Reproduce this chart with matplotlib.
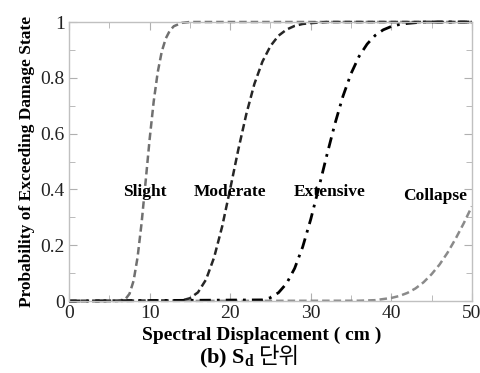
import matplotlib.pyplot as plt

plt.rcParams['font.family'] = ['Liberation Serif', 'DejaVu Serif']
plt.rcParams['mathtext.fontset'] = 'custom'
plt.rcParams['mathtext.rm'] = 'Liberation Serif'
plt.rcParams['mathtext.bf'] = 'Liberation Serif:bold'

# fragility curves
slight_x = [0, 6, 7, 7.5, 8, 8.5, 9, 9.5, 10, 10.5, 11, 11.5, 12, 12.5, 13, 14, 15, 50]
slight_y = [0, 0, 0.007, 0.026, 0.072, 0.157, 0.280, 0.429, 0.581, 0.715, 0.820, 0.894,
            0.941, 0.969, 0.985, 0.997, 1, 1]

moderate_x = [0, 14, 15, 16, 17, 18, 19, 20, 21, 22, 23, 24, 25, 26, 27, 28, 29, 30, 32, 50]
moderate_y = [0, 0.002, 0.010, 0.031, 0.077, 0.156, 0.267, 0.402, 0.542, 0.670, 0.778, 0.858,
              0.914, 0.951, 0.973, 0.986, 0.993, 0.996, 1, 1]

extensive_x = [0, 24, 25, 26, 27, 28, 29, 30, 31, 32, 33, 34, 35, 36, 37, 38, 39, 40, 41, 42, 44, 50]
extensive_y = [0, 0.004, 0.012, 0.030, 0.063, 0.117, 0.194, 0.293, 0.406, 0.523, 0.635, 0.734,
               0.815, 0.877, 0.921, 0.952, 0.972, 0.984, 0.991, 0.995, 1, 1]

collapse_x = [0, 36, 38, 40, 41, 42, 43, 44, 45, 46, 47, 48, 49, 50]
collapse_y = [0, 0.001, 0.003, 0.011, 0.018, 0.029, 0.045, 0.067, 0.096, 0.131, 0.174, 0.224,
              0.279, 0.339]

labels = ["Slight", "Moderate", "Extensive", "Collapse"]
label_x = [9.4, 20.0, 32.4, 45.5]
label_y = [0.39, 0.39, 0.39, 0.375]

fig = plt.figure(figsize=(4.8, 3.73), dpi=100)
ax = fig.add_axes([0.144, 0.193, 0.839, 0.748])

ax.plot(collapse_x, collapse_y, color='#8a8a8a', ls=(0, (3, 1.6)), lw=1.8, clip_on=False)
ax.plot(slight_x, slight_y, color='#707070', ls=(0, (3, 1.6)), lw=1.8, clip_on=False)
ax.plot(moderate_x, moderate_y, color='#262626', ls=(0, (3, 1.6)), lw=1.8, clip_on=False)
ax.plot(extensive_x, extensive_y, color='black', ls=(0, (4, 2.2, 1, 2.2)), lw=2.0, clip_on=False)

for lab, lx, ly in zip(labels, label_x, label_y):
    ax.text(lx, ly, lab, ha='center', va='center', fontsize=12.5, fontweight='bold')

ax.set_xlim(0, 50)
ax.set_ylim(0, 1)
ax.set_xticks([0, 10, 20, 30, 40, 50])
ax.set_xticks([5, 15, 25, 35, 45], minor=True)
ax.set_yticks([0, 0.2, 0.4, 0.6, 0.8, 1])
ax.set_yticklabels(['0', '0.2', '0.4', '0.6', '0.8', '1'])
ax.set_yticks([0.1, 0.3, 0.5, 0.7, 0.9], minor=True)
ax.tick_params(which='both', direction='in', top=True, right=True, color='#b0b0b0',
               labelsize=14, labelcolor='#222222', pad=3)
ax.tick_params(which='major', length=6)
ax.tick_params(which='minor', length=4)
for s in ax.spines.values():
    s.set_color('#c0c0c0')
    s.set_linewidth(1.0)

ax.set_xlabel("Spectral Displacement ( cm )", fontsize=14, fontweight='bold')
ax.xaxis.set_label_coords(0.478, -0.092)
ax.set_ylabel("Probability of Exceeding Damage State", fontsize=12.5, fontweight='bold', labelpad=4)

cap = fig.text(0.415, 0.026, r"(b) $\mathbf{S_d}$", fontsize=16, fontweight='bold', ha='left',
               va='baseline')
ax.annotate("단위", xy=(1, 0), xycoords=cap, xytext=(3, 1), textcoords='offset points',
            fontsize=16, family=['Noto Sans CJK KR', 'DejaVu Sans'], va='bottom',
            annotation_clip=False)

fig.savefig("out.png", dpi=100)
